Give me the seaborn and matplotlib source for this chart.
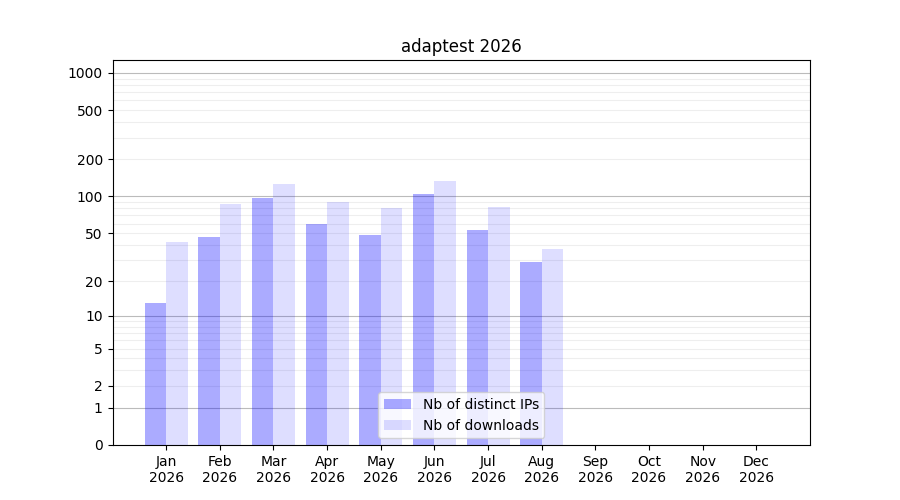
import numpy as np
import pandas as pd
import matplotlib
matplotlib.use("Agg")
import matplotlib.pyplot as plt
import seaborn as sns
from matplotlib.ticker import FixedLocator

months = ["Jan", "Feb", "Mar", "Apr", "May", "Jun",
          "Jul", "Aug", "Sep", "Oct", "Nov", "Dec"]
year = 2026
distinct_ips = [13, 47, 97, 60, 48, 105, 53, 29, np.nan, np.nan, np.nan, np.nan]
downloads = [42, 87, 126, 90, 81, 134, 82, 37, np.nan, np.nan, np.nan, np.nan]
series_names = ["Nb of distinct IPs", "Nb of downloads"]
major_ticks = [0, 1, 2, 5, 10, 20, 50, 100, 200, 500, 1000]

df = pd.DataFrame({
    "month": months * 2,
    "value": distinct_ips + downloads,
    "series": [series_names[0]] * 12 + [series_names[1]] * 12,
})


def fwd(y):
    return np.log10(1 + np.clip(y, 0, None))


def inv(y):
    return 10 ** y - 1


fig, ax = plt.subplots(figsize=(9, 5), dpi=100)
palette = {series_names[0]: (0, 0, 1, 0.33), series_names[1]: (0, 0, 1, 0.13)}
sns.barplot(data=df, x="month", y="value", hue="series", order=months,
            hue_order=series_names, palette=palette, errorbar=None,
            width=0.8, saturation=1, linewidth=0, ax=ax)

ax.set_yscale("function", functions=(fwd, inv))
ax.set_ylim(0, 1273)
ax.set_xlim(-1, 12)
ax.yaxis.set_major_locator(FixedLocator(major_ticks))
ax.set_yticklabels([str(t) for t in major_ticks])
minor = [m * d for d in (1, 10, 100) for m in range(2, 10)]
ax.yaxis.set_minor_locator(FixedLocator(minor))
ax.tick_params(axis="y", which="minor", length=0)

# grid under the translucent bars
for g in (1, 10, 100, 1000):
    ax.axhline(g, color="#bbbbbb", lw=0.8, zorder=0.5)
for g in minor:
    ax.axhline(g, color="#eeeeee", lw=0.8, zorder=0.5)

ax.set_xticks(range(12))
ax.set_xticklabels([f"{m}\n{year}" for m in months])
ax.set_xlabel("")
ax.set_ylabel("")
ax.set_title(f"adaptest {year}")
ax.legend(loc="lower center")

fig.savefig("out.png", dpi=100)
